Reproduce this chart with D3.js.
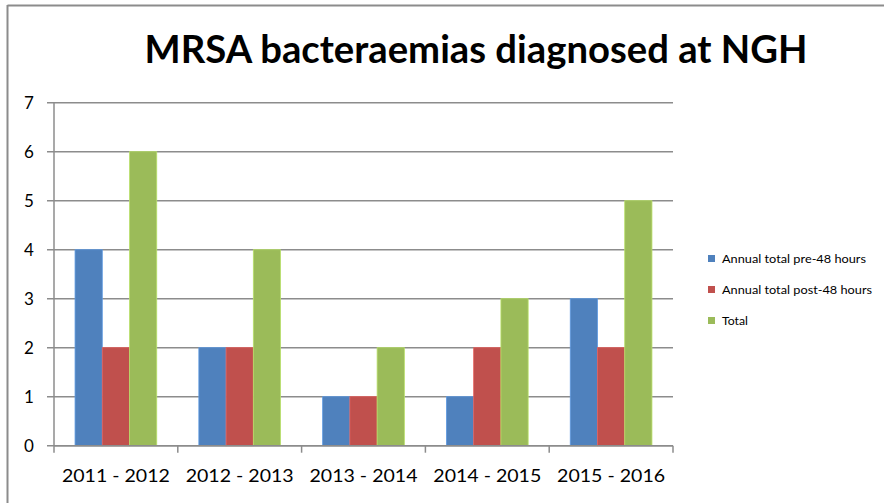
<!DOCTYPE html>
<html>
<head>
<meta charset="utf-8">
<script src="https://cdn.jsdelivr.net/npm/d3@7"></script>
<style>
  html, body { margin: 0; padding: 0; background: #fff; }
  svg { display: block; }
  text { font-family: Lato, "Open Sans", "Liberation Sans", sans-serif; fill: #000; }
</style>
</head>
<body>
<svg id="chart" width="884" height="503"></svg>
<script>
// MRSA bacteraemias per financial year
const categories = ["2011 - 2012", "2012 - 2013", "2013 - 2014", "2014 - 2015", "2015 - 2016"];
const seriesNames = ["Annual total pre-48 hours", "Annual total post-48 hours", "Total"];
const preValues = [4, 2, 1, 1, 3];
const postValues = [2, 2, 1, 2, 2];
const totalValues = [6, 4, 2, 3, 5];
const yTicks = [0, 1, 2, 3, 4, 5, 6, 7];
const titleText = "MRSA bacteraemias diagnosed at NGH";

const colors = ["#4F81BD", "#C0504D", "#9BBB59"];
const seriesValues = [preValues, postValues, totalValues];
const legendWidths = [144, 150, 26];

const svg = d3.select("#chart");

// outer frame (top and left edges)
svg.append("line").attr("x1", 7.5).attr("x2", 884).attr("y1", 5.5).attr("y2", 5.5)
  .attr("stroke", "#8c8c8c").attr("stroke-width", 2);
svg.append("line").attr("x1", 7.5).attr("x2", 7.5).attr("y1", 5).attr("y2", 503)
  .attr("stroke", "#8c8c8c").attr("stroke-width", 2);

const plot = { left: 54, right: 673, top: 102.7, bottom: 445.7 };

const x = d3.scaleBand().domain(categories).range([plot.left, plot.right]).paddingInner(0).paddingOuter(0);
const groupInner = x.bandwidth() * 0.66;
const xs = d3.scaleBand().domain(d3.range(seriesNames.length))
  .range([0, groupInner]);
const y = d3.scaleLinear().domain([0, 7]).range([plot.bottom, plot.top]);

// horizontal gridlines
svg.append("g").selectAll("line").data(yTicks).join("line")
  .attr("x1", plot.left - 7).attr("x2", plot.right)
  .attr("y1", d => y(d)).attr("y2", d => y(d))
  .attr("stroke", "#8c8c8c").attr("stroke-width", 1.5);

// y axis line
svg.append("line").attr("x1", plot.left).attr("x2", plot.left)
  .attr("y1", plot.top).attr("y2", plot.bottom)
  .attr("stroke", "#8c8c8c").attr("stroke-width", 1.5);

// y tick labels
svg.append("g").selectAll("text").data(yTicks).join("text")
  .attr("x", 29).attr("y", d => y(d) + 6)
  .attr("text-anchor", "middle").attr("font-size", 17)
  .text(d => d);

// bars
const groups = svg.append("g").selectAll("g").data(categories).join("g")
  .attr("transform", d => `translate(${x(d) + (x.bandwidth() - groupInner) / 2},0)`);
groups.selectAll("rect").data((c, i) => seriesValues.map((vals, s) => ({ s, v: vals[i] })))
  .join("rect")
  .attr("x", d => xs(d.s))
  .attr("width", xs.bandwidth())
  .attr("y", d => y(d.v))
  .attr("height", d => y(0) - y(d.v))
  .attr("fill", d => colors[d.s])
  .attr("stroke", d => d3.color(colors[d.s]).brighter(0.5))
  .attr("stroke-width", 0.8);

// x axis baseline and category ticks
svg.append("line").attr("x1", plot.left).attr("x2", plot.right)
  .attr("y1", plot.bottom).attr("y2", plot.bottom)
  .attr("stroke", "#8c8c8c").attr("stroke-width", 1.5);
const xTickPos = categories.map(c => x(c)).concat([plot.right]);
svg.append("g").selectAll("line").data(xTickPos).join("line")
  .attr("x1", d => d).attr("x2", d => d)
  .attr("y1", plot.bottom).attr("y2", plot.bottom + 7)
  .attr("stroke", "#8c8c8c").attr("stroke-width", 1.5);

// category labels
svg.append("g").selectAll("text").data(categories).join("text")
  .attr("x", d => x(d) + x.bandwidth() / 2).attr("y", 482)
  .attr("text-anchor", "middle").attr("font-size", 17)
  .attr("textLength", 108).attr("lengthAdjust", "spacingAndGlyphs")
  .text(d => d);

// title
svg.append("text").attr("x", 476).attr("y", 63)
  .attr("text-anchor", "middle").attr("font-size", 39).attr("font-weight", "bold")
  .attr("textLength", 663).attr("lengthAdjust", "spacingAndGlyphs")
  .text(titleText);

// legend
const legend = svg.append("g").selectAll("g").data(seriesNames).join("g")
  .attr("transform", (d, i) => `translate(708,${259 + i * 31})`);
legend.append("rect").attr("x", 0).attr("y", -4).attr("width", 7).attr("height", 7)
  .attr("fill", (d, i) => colors[i]);
legend.append("text").attr("x", 14).attr("y", 4).attr("font-size", 11.5)
  .attr("textLength", (d, i) => legendWidths[i]).attr("lengthAdjust", "spacingAndGlyphs")
  .text(d => d);
</script>
</body>
</html>
